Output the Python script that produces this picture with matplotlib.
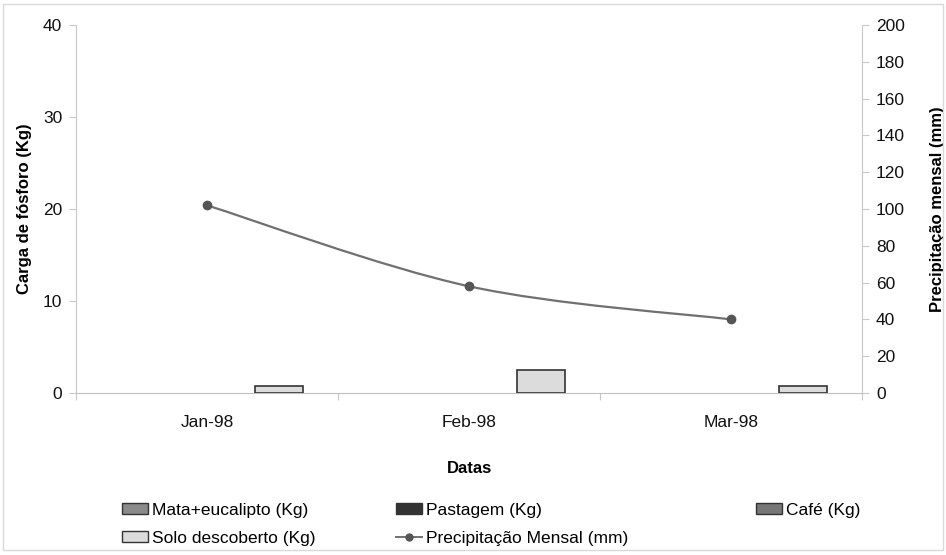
import matplotlib
matplotlib.use("Agg")
import matplotlib.pyplot as plt
import numpy as np
from matplotlib.path import Path
from matplotlib.patches import PathPatch, Patch, Rectangle
from matplotlib.lines import Line2D

plt.rcParams['font.family'] = ['Liberation Sans', 'DejaVu Sans']

datas = ['Jan-98', 'Feb-98', 'Mar-98']
mata = [0, 0, 0]
pastagem = [0, 0, 0]
cafe = [0, 0, 0]
solo = [0.8, 2.5, 0.8]
precip = [102, 58, 40]

series = [
    ('Mata+eucalipto (Kg)', mata, '#8a8a8a'),
    ('Pastagem (Kg)', pastagem, '#333333'),
    ('Café (Kg)', cafe, '#777777'),
    ('Solo descoberto (Kg)', solo, '#dcdcdc'),
]

fig = plt.figure(figsize=(9.46, 5.55), dpi=100)
ax = fig.add_axes([76/946, 1-393/555, (862-76)/946, (393-25)/555])
ax2 = ax.twinx()

x = np.arange(len(datas))
w = 0.184
for i, (name, vals, col) in enumerate(series):
    edges = ['#333333' if v > 0 else 'none' for v in vals]
    ax.bar(x + (i - 1.5)*w, vals, w, color=col, edgecolor=edges, linewidth=1.2, zorder=3)

# smoothed line (Excel style bezier)
px = x.astype(float)
py = np.array(precip, dtype=float)
n = len(px)
verts = [(px[0], py[0])]
codes = [Path.MOVETO]
for i in range(n - 1):
    p0 = i - 1 if i > 0 else i
    p3 = i + 2 if i + 2 < n else i + 1
    c1 = (px[i] + (px[i+1] - px[p0])/6, py[i] + (py[i+1] - py[p0])/6)
    c2 = (px[i+1] - (px[p3] - px[i])/6, py[i+1] - (py[p3] - py[i])/6)
    verts += [c1, c2, (px[i+1], py[i+1])]
    codes += [Path.CURVE4]*3
ax2.add_patch(PathPatch(Path(verts, codes), facecolor='none', edgecolor='#707070', lw=1.6, zorder=4))
ax2.plot(px, py, 'o', color='#555555', ms=6, zorder=5)

ax.set_xlim(-0.5, 2.5)
ax.set_ylim(0, 40)
ax2.set_ylim(0, 200)
ax.set_yticks([0, 10, 20, 30, 40])
ax2.set_yticks(range(0, 201, 20))
ax.set_xticks([-0.5, 0.5, 1.5, 2.5])
ax.set_xticklabels([])
ax.set_xticks(x, minor=True)
ax.set_xticklabels(datas, minor=True)
ax.tick_params(axis='x', which='minor', length=0, pad=16, labelsize=12.5, colors='#111111')
ax.tick_params(axis='x', which='major', length=5, color='#c8c8c8')
ax.tick_params(axis='y', length=5, color='#c8c8c8', labelsize=12.5, labelcolor='#111111', pad=5)
ax2.tick_params(axis='y', length=5, color='#c8c8c8', labelsize=12.5, labelcolor='#111111', pad=5)

for a in (ax, ax2):
    for s in a.spines.values():
        s.set_visible(False)
ax.spines['left'].set_visible(True)
ax.spines['bottom'].set_visible(True)
ax2.spines['right'].set_visible(True)
ax.spines['left'].set_color('#c8c8c8')
ax.spines['bottom'].set_color('#c0c0c0')
ax2.spines['right'].set_color('#c8c8c8')

ax.set_ylabel('Carga de fósforo (Kg)', fontsize=12, fontweight='bold', labelpad=8)
ax2.set_ylabel('Precipitação mensal (mm)', fontsize=12, fontweight='bold', labelpad=18)
ax.set_xlabel('Datas', fontsize=12, fontweight='bold', labelpad=22)

# legend in three columns like the original
handles = [Patch(facecolor=c, edgecolor='#333333', label=nm) for nm, v, c in series]
line_h = Line2D([], [], color='#707070', marker='o', ms=5, mfc='#555555', mec='#555555', lw=1.4,
                label='Precipitação Mensal (mm)')
cols = [([handles[0], handles[3]], 122), ([handles[1], line_h], 396), ([handles[2]], 756)]
for hs, xpix in cols:
    fig.legend(handles=hs, loc='upper left', bbox_to_anchor=(xpix/946, 1-503/555),
               frameon=False, fontsize=12.5, handlelength=1.5, handleheight=0.6,
               handletextpad=0.2, labelspacing=0.75, borderpad=0, borderaxespad=0)

fig.add_artist(Rectangle((3/946, 5/555), 940/946, 546/555, transform=fig.transFigure,
                         fill=False, edgecolor='#d9d9d9', lw=1))

fig.savefig('out.png', dpi=100)
